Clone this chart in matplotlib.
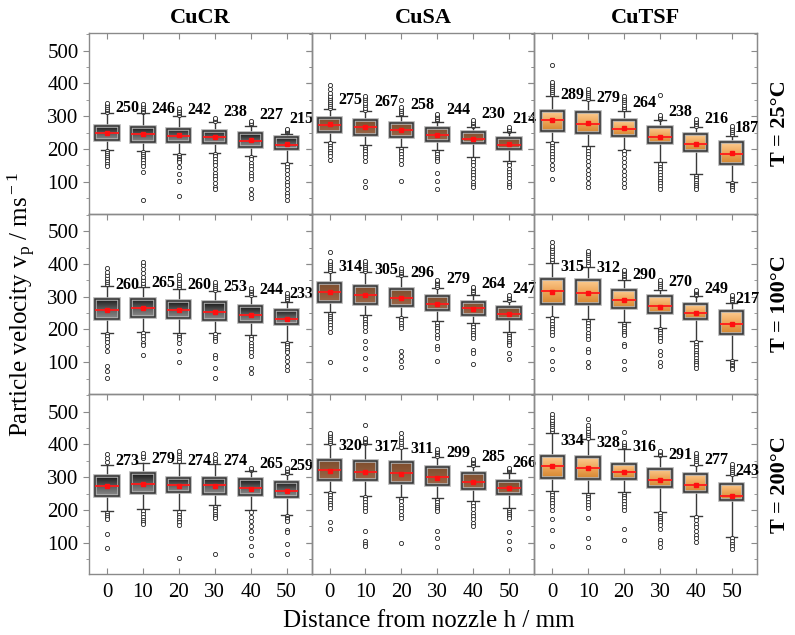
import numpy as np
import matplotlib
matplotlib.use('Agg')
import matplotlib.pyplot as plt
from matplotlib.colors import LinearSegmentedColormap
from matplotlib.ticker import MultipleLocator
import matplotlib.patheffects as pe

plt.rcParams['font.family'] = ['Liberation Serif', 'DejaVu Serif']
plt.rcParams['mathtext.fontset'] = 'custom'
plt.rcParams['mathtext.rm'] = 'Liberation Serif'
plt.rcParams['mathtext.it'] = 'Liberation Serif:italic'
plt.rcParams['mathtext.bf'] = 'Liberation Serif:bold'

# ---------------- data ----------------
distances = [0, 10, 20, 30, 40, 50]
materials = ['CuCR', 'CuSA', 'CuTSF']
temperatures = ['T = 25°C', 'T = 100°C', 'T = 200°C']

# rows: 25, 100, 200 °C ; columns: distance 0..50 mm
CUCR_Q1 = [[228, 222, 220, 218, 207, 200], [232, 239, 236, 229, 224, 216], [242, 251, 256, 250, 247, 240]]
CUCR_MED = [[249, 245, 241, 236, 224, 212], [259, 265, 260, 252, 245, 232], [272, 280, 276, 275, 266, 258]]
CUCR_Q3 = [[269, 266, 260, 256, 249, 236], [294, 294, 287, 283, 272, 260], [303, 312, 299, 299, 293, 286]]
CUCR_WLO = [[198, 195, 185, 188, 178, 157], [190, 192, 188, 189, 182, 163], [196, 202, 199, 215, 199, 186]]
CUCR_WHI = [[309, 309, 300, 282, 271, 246], [333, 331, 325, 316, 301, 285], [336, 344, 344, 339, 319, 309]]
CUCR_MEAN = [[250, 246, 242, 238, 227, 215], [260, 265, 260, 253, 244, 233], [273, 279, 274, 274, 265, 259]]
CUCR_OUT = [
    [[313, 318, 322, 327, 333, 341, 194, 188, 182, 176, 170, 163, 155, 147],
     [313, 317, 321, 326, 332, 338, 191, 186, 180, 172, 165, 157, 149, 129, 45],
     [305, 309, 313, 318, 325, 181, 176, 170, 165, 159, 144, 123, 103, 55],
     [286, 290, 294, 184, 178, 170, 160, 150, 140, 128, 118, 108, 97, 85, 77],
     [275, 279, 284, 174, 168, 158, 148, 138, 128, 118, 108, 78, 62, 49],
     [251, 254, 257, 261, 153, 145, 135, 125, 112, 100, 90, 78, 66, 55, 45]],
    [[338, 344, 350, 357, 365, 375, 387, 186, 180, 172, 163, 150, 135, 89, 73, 52],
     [336, 342, 350, 360, 372, 385, 396, 407, 188, 180, 170, 160, 153, 121],
     [329, 335, 342, 350, 358, 366, 184, 177, 170, 159, 135, 102],
     [320, 326, 333, 340, 346, 185, 178, 170, 164, 123, 112, 82, 51],
     [305, 310, 316, 321, 326, 178, 170, 160, 150, 140, 130, 118, 82, 67],
     [289, 294, 300, 306, 311, 159, 152, 145, 137, 130, 115, 104, 89, 76]],
    [[345, 360, 372, 190, 186, 178, 171, 127, 84],
     [360, 366, 373, 196, 188, 180, 170, 163, 157],
     [350, 358, 366, 373, 380, 193, 185, 177, 170, 162, 155, 54],
     [345, 352, 360, 370, 210, 203, 196, 188, 182, 176, 66],
     [322, 325, 327, 193, 180, 165, 150, 135, 115, 89, 62],
     [313, 318, 323, 329, 181, 176, 171, 166, 140, 132, 97, 66]],
]

CUSA_Q1 = [[251, 244, 238, 223, 217, 200], [285, 278, 273, 258, 245, 232], [292, 290, 282, 275, 264, 250]]
CUSA_MED = [[273, 266, 257, 243, 229, 212], [314, 305, 296, 277, 265, 247], [321, 317, 312, 300, 285, 266]]
CUSA_Q3 = [[295, 289, 280, 264, 251, 234], [342, 333, 323, 303, 285, 268], [352, 348, 345, 332, 313, 289]]
CUSA_WLO = [[222, 213, 205, 197, 174, 164], [253, 243, 239, 225, 220, 191], [256, 244, 239, 235, 227, 205]]
CUSA_WHI = [[322, 315, 302, 282, 266, 251], [375, 374, 362, 326, 306, 287], [400, 400, 388, 362, 334, 314]]
CUSA_MEAN = [[275, 267, 258, 244, 230, 214], [314, 305, 296, 279, 264, 247], [320, 317, 311, 299, 285, 266]]
CUSA_OUT = [
    [[326, 331, 337, 343, 350, 356, 362, 372, 384, 394, 217, 210, 203, 195, 187, 178, 166],
     [320, 326, 333, 340, 348, 356, 363, 207, 200, 193, 185, 176, 164, 103, 85],
     [306, 311, 316, 322, 327, 348, 200, 193, 185, 176, 166, 154, 103],
     [287, 292, 298, 303, 307, 192, 185, 177, 170, 164, 127, 103, 77],
     [270, 274, 279, 283, 287, 168, 160, 150, 140, 130, 120, 110, 100, 90, 83],
     [255, 259, 262, 266, 158, 150, 140, 130, 120, 110, 100, 90, 83]],
    [[380, 386, 392, 398, 404, 409, 435, 248, 242, 236, 229, 222, 214, 204, 191, 100],
     [379, 385, 391, 397, 403, 408, 238, 231, 224, 216, 207, 196, 164, 142, 113, 80],
     [366, 371, 376, 382, 388, 234, 228, 220, 212, 204, 135, 120, 105, 86],
     [331, 336, 341, 347, 352, 220, 212, 203, 194, 184, 174, 149, 139, 103],
     [310, 315, 320, 326, 331, 215, 207, 198, 190, 182, 174, 136, 129, 94],
     [291, 295, 300, 306, 186, 180, 173, 166, 159, 152, 128, 111]],
    [[405, 411, 417, 423, 429, 434, 251, 245, 238, 230, 222, 214, 207, 162, 141],
     [404, 408, 412, 416, 421, 459, 239, 232, 224, 216, 207, 197, 135, 104, 95, 90],
     [393, 400, 408, 416, 424, 434, 234, 226, 216, 206, 196, 186, 175, 99],
     [366, 371, 376, 380, 385, 230, 223, 216, 209, 203, 197, 135, 115, 86],
     [338, 342, 346, 351, 355, 222, 212, 202, 192, 182, 172, 161, 150],
     [318, 321, 325, 329, 200, 195, 189, 183, 176, 132, 105, 81]],
]

CUTSF_Q1 = [[256, 249, 241, 218, 195, 154], [277, 279, 267, 251, 232, 187], [298, 296, 293, 269, 255, 229]]
CUTSF_MED = [[287, 276, 261, 237, 214, 186], [316, 312, 291, 271, 250, 217], [334, 329, 315, 291, 277, 243]]
CUTSF_Q3 = [[317, 312, 289, 266, 246, 220], [354, 350, 321, 301, 277, 257], [365, 362, 341, 324, 310, 280]]
CUTSF_WLO = [[222, 208, 198, 159, 123, 100], [239, 232, 222, 206, 166, 108], [257, 252, 255, 195, 183, 118]]
CUTSF_WHI = [[363, 348, 317, 287, 266, 241], [402, 392, 352, 321, 301, 282], [435, 416, 386, 365, 336, 306]]
CUTSF_MEAN = [[289, 279, 264, 238, 216, 187], [315, 312, 290, 270, 249, 217], [334, 328, 316, 291, 277, 243]]
CUTSF_OUT = [
    [[368, 374, 380, 386, 392, 398, 404, 457, 217, 210, 202, 193, 184, 175, 165, 152, 139, 108],
     [353, 358, 364, 370, 377, 384, 203, 195, 185, 175, 163, 150, 137, 124, 110, 96, 83],
     [322, 328, 335, 342, 349, 356, 363, 193, 184, 173, 160, 147, 133, 120, 107, 95, 83],
     [291, 295, 299, 304, 365, 154, 146, 138, 130, 121, 112, 103, 95, 86, 78],
     [270, 276, 281, 286, 292, 118, 111, 104, 97, 90, 84, 78],
     [246, 252, 258, 264, 271, 96, 91, 86, 81, 76]],
    [[408, 416, 424, 432, 440, 448, 456, 468, 234, 226, 218, 209, 200, 191, 182, 139, 105, 80],
     [398, 405, 412, 419, 426, 433, 440, 227, 219, 210, 200, 190, 181, 172, 141, 131, 102, 84],
     [357, 362, 367, 372, 377, 382, 217, 210, 203, 196, 189, 182, 156, 151, 105, 80],
     [326, 332, 338, 344, 352, 201, 195, 188, 181, 174, 164, 133, 123, 102, 87],
     [305, 309, 313, 317, 321, 161, 153, 145, 137, 129, 121, 113, 105, 97, 90, 83],
     [286, 291, 296, 301, 306, 104, 98, 93, 88, 83, 80]],
    [[441, 448, 455, 462, 469, 476, 485, 494, 252, 245, 237, 229, 221, 212, 200, 172, 140, 89],
     [421, 428, 435, 442, 450, 458, 478, 247, 240, 232, 224, 215, 205, 174, 115, 87],
     [391, 396, 401, 406, 437, 250, 243, 235, 226, 217, 208, 200, 141, 107],
     [369, 372, 376, 380, 190, 183, 176, 169, 162, 155, 143, 107, 98, 86],
     [341, 348, 355, 362, 368, 375, 178, 168, 158, 147, 136, 125, 114, 103],
     [310, 316, 322, 328, 334, 339, 113, 104, 96, 89, 82]],
]

# ---------------- styling ----------------
panel_data = {
    'CuCR': (CUCR_Q1, CUCR_MED, CUCR_Q3, CUCR_WLO, CUCR_WHI, CUCR_MEAN, CUCR_OUT),
    'CuSA': (CUSA_Q1, CUSA_MED, CUSA_Q3, CUSA_WLO, CUSA_WHI, CUSA_MEAN, CUSA_OUT),
    'CuTSF': (CUTSF_Q1, CUTSF_MED, CUTSF_Q3, CUTSF_WLO, CUTSF_WHI, CUTSF_MEAN, CUTSF_OUT),
}
cmaps = {
    'CuCR': LinearSegmentedColormap.from_list('cr', ['#8c8c8c', '#5a5a5a', '#141414']),
    'CuSA': LinearSegmentedColormap.from_list('sa', ['#9c6748', '#8c5a3a', '#7e4d2d']),
    'CuTSF': LinearSegmentedColormap.from_list('tsf', ['#d4862f', '#eea659', '#fdcd92']),
}
FRAME = '#8a8a8a'
BOX_W = 6.5
CAP_W = 3.2
grad = np.linspace(0, 1, 128).reshape(-1, 1)

fig, axes = plt.subplots(3, 3, figsize=(7.95, 6.35), dpi=100, sharex=True, sharey=True)
fig.subplots_adjust(left=0.112, right=0.952, top=0.948, bottom=0.0953, hspace=0, wspace=0)

for r in range(3):
    for c, mat in enumerate(materials):
        ax = axes[r, c]
        ax.set_facecolor('none')
        q1, med, q3, wlo, whi, mean, out = panel_data[mat]
        stats = []
        for i in range(len(distances)):
            stats.append(dict(q1=q1[r][i], med=med[r][i], q3=q3[r][i],
                              whislo=wlo[r][i], whishi=whi[r][i], mean=mean[r][i],
                              fliers=out[r][i], label=str(distances[i])))
        art = ax.bxp(stats, positions=distances, widths=BOX_W, capwidths=CAP_W,
                     patch_artist=True, showmeans=True, manage_ticks=False,
                     boxprops=dict(facecolor='none', edgecolor='#333333', linewidth=1.1, zorder=3),
                     whiskerprops=dict(color='#3a3a3a', linewidth=1.0),
                     capprops=dict(color='#3a3a3a', linewidth=1.0),
                     medianprops=dict(color='#ff1a1a', linewidth=1.3, zorder=4),
                     meanprops=dict(marker='s', markerfacecolor='#ff1010', markeredgecolor='#ff1010',
                                    markersize=3.0, zorder=5),
                     flierprops=dict(marker='o', markerfacecolor='white', markeredgecolor='#222222',
                                     markersize=3.0, markeredgewidth=0.6, linestyle='none'))
        for b in art['boxes']:
            b.set_path_effects([pe.Stroke(linewidth=2.6, foreground='#b0b0b0'), pe.Normal()])
        for i, x in enumerate(distances):
            ax.imshow(grad, extent=(x - BOX_W / 2, x + BOX_W / 2, q1[r][i], q3[r][i]),
                      origin='lower', cmap=cmaps[mat], aspect='auto', zorder=2,
                      interpolation='bilinear')
            last = (i == len(distances) - 1)
            ax.text(x + (0.9 if last else 2.4), mean[r][i] + 76, f'{mean[r][i]}',
                    ha='left', va='center', fontsize=11.5, fontweight='bold', zorder=6,
                    clip_on=False)

        ax.set_xlim(-5, 57)
        ax.set_ylim(3, 554)
        ax.set_xticks(distances)
        ax.set_yticks([100, 200, 300, 400, 500])
        ax.yaxis.set_minor_locator(MultipleLocator(50))
        ax.tick_params(axis='y', which='major', direction='out', length=4, color=FRAME,
                       labelsize=15, left=True, right=False)
        ax.tick_params(axis='y', which='minor', direction='out', length=2.5, color=FRAME,
                       left=True, right=False)
        ax.tick_params(axis='x', which='major', direction='in', length=4, color=FRAME,
                       labelsize=15, top=True, bottom=(r == 2), pad=6)
        for sp in ax.spines.values():
            sp.set_color(FRAME)
            sp.set_linewidth(1.0)
        sec = ax.secondary_yaxis('right')
        sec.set_yticks([100, 200, 300, 400, 500])
        sec.yaxis.set_minor_locator(MultipleLocator(50))
        sec.tick_params(which='major', direction='in', length=4, color=FRAME, labelright=False)
        sec.tick_params(which='minor', direction='in', length=2.5, color=FRAME, labelright=False)
        sec.spines['right'].set_color(FRAME)
        if r == 0:
            ax.set_title(mat, fontsize=16, fontweight='bold', pad=7)

for r, t in enumerate(temperatures):
    pos = axes[r, 2].get_position()
    fig.text(0.981, (pos.y0 + pos.y1) / 2, t, rotation=90, ha='center', va='center',
             fontsize=16, fontweight='bold')

fig.text(0.028, 0.52, r'Particle velocity v$_{\rm p}$ / ms$^{\rm -1}$', rotation=90,
         ha='center', va='center', fontsize=18)
fig.text(0.54, 0.022, 'Distance from nozzle h / mm', ha='center', va='center', fontsize=18)

fig.savefig('out.png', dpi=100)
